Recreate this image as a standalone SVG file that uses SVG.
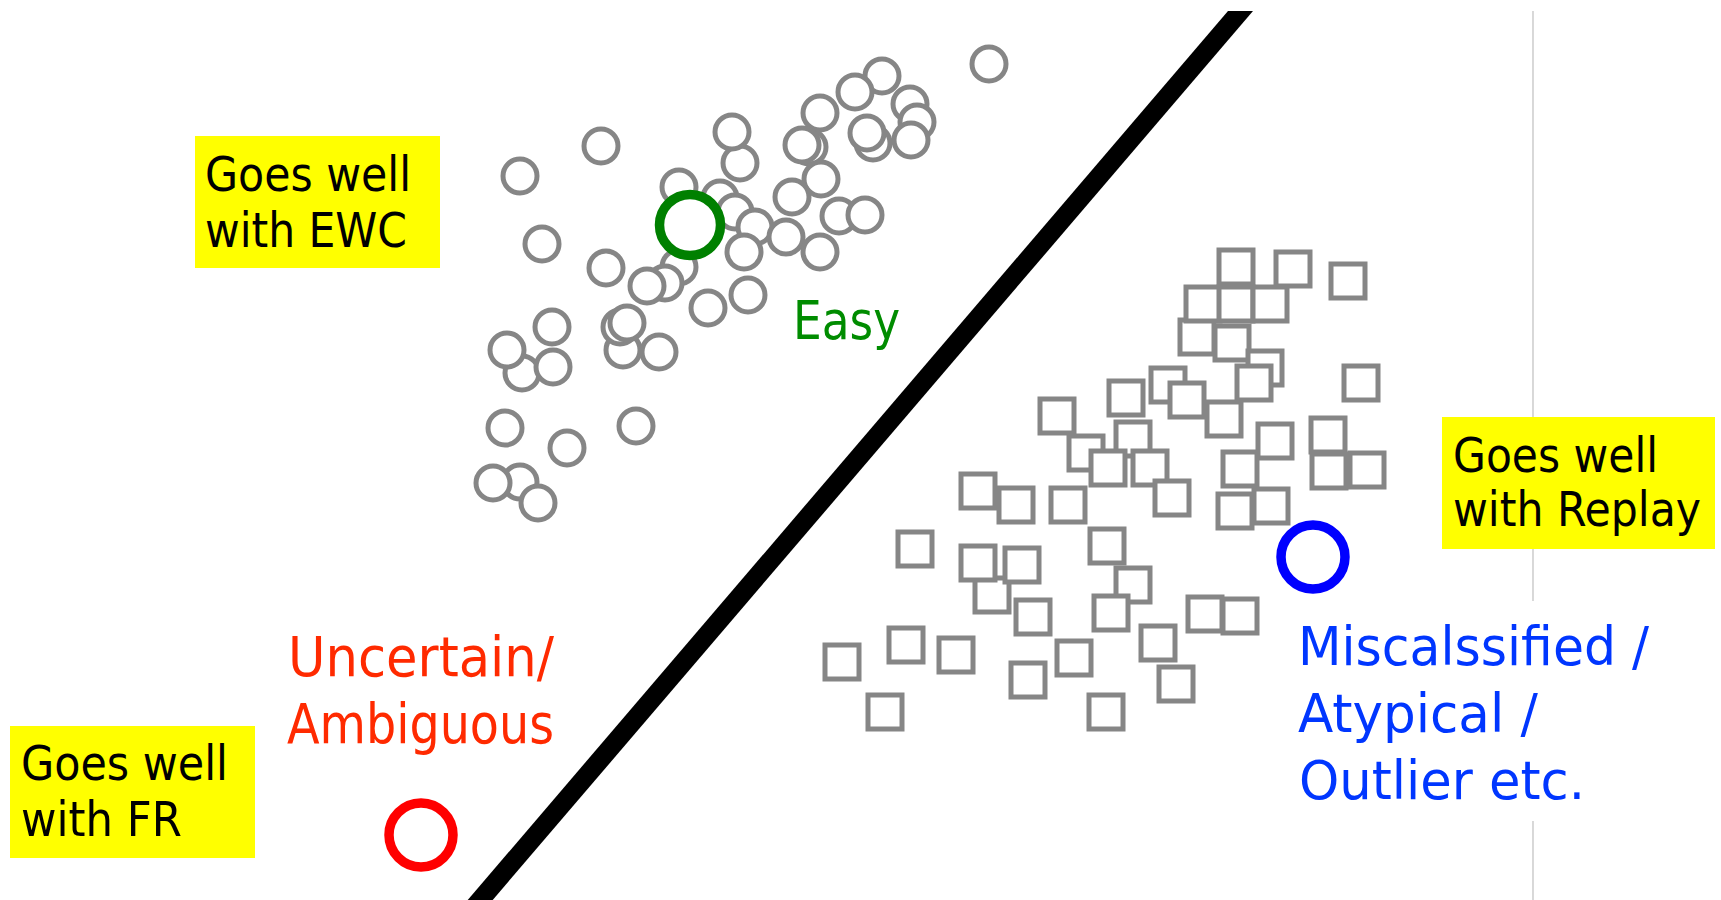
<svg xmlns="http://www.w3.org/2000/svg" width="1721" height="900" viewBox="0 0 1721 900">
  <style>
    .pt { fill: #ffffff; stroke: #868686; stroke-width: 5; }
    .sq { fill: #ffffff; stroke: #868686; stroke-width: 5; }
    .tag { fill: #ffff00; }
    .lbl { font-family: "DejaVu Sans Condensed", "DejaVu Sans", sans-serif; }
    .tagtxt { font-size: 48px; fill: #000000; }
  </style>

  <rect x="0" y="0" width="1721" height="900" fill="#ffffff"/>

  <!-- dividers -->
  <g id="connectors">
    <line x1="1533" y1="11" x2="1533" y2="900" stroke="#c4c4c4" stroke-width="1.3"/>
    <polygon points="1228,11 1253,11 491,902 466,902" fill="#000000"/>
  </g>

  <!-- class A: circles -->
  <g id="class-circles">
    <circle class="pt" cx="989" cy="64" r="17"/>
    <circle class="pt" cx="882" cy="76" r="17"/>
    <circle class="pt" cx="855" cy="92" r="17"/>
    <circle class="pt" cx="910" cy="104" r="17"/>
    <circle class="pt" cx="917" cy="122" r="17"/>
    <circle class="pt" cx="911" cy="140" r="17"/>
    <circle class="pt" cx="820" cy="113" r="17"/>
    <circle class="pt" cx="873" cy="143" r="17"/>
    <circle class="pt" cx="867" cy="133" r="17"/>
    <circle class="pt" cx="809" cy="147" r="17"/>
    <circle class="pt" cx="802" cy="145" r="17"/>
    <circle class="pt" cx="740" cy="163" r="17"/>
    <circle class="pt" cx="732" cy="132" r="17"/>
    <circle class="pt" cx="601" cy="146" r="17"/>
    <circle class="pt" cx="520" cy="176" r="17"/>
    <circle class="pt" cx="821" cy="179" r="17"/>
    <circle class="pt" cx="792" cy="197" r="17"/>
    <circle class="pt" cx="679" cy="187" r="17"/>
    <circle class="pt" cx="720" cy="198" r="17"/>
    <circle class="pt" cx="735" cy="212" r="17"/>
    <circle class="pt" cx="839" cy="216" r="17"/>
    <circle class="pt" cx="865" cy="215" r="17"/>
    <circle class="pt" cx="755" cy="227" r="17"/>
    <circle class="pt" cx="786" cy="237" r="17"/>
    <circle class="pt" cx="744" cy="252" r="17"/>
    <circle class="pt" cx="820" cy="252" r="17"/>
    <circle class="pt" cx="542" cy="244" r="17"/>
    <circle class="pt" cx="679" cy="267" r="17"/>
    <circle class="pt" cx="606" cy="268" r="17"/>
    <circle class="pt" cx="665" cy="283" r="17"/>
    <circle class="pt" cx="647" cy="286" r="17"/>
    <circle class="pt" cx="708" cy="308" r="17"/>
    <circle class="pt" cx="748" cy="295" r="17"/>
    <circle class="pt" cx="552" cy="327" r="17"/>
    <circle class="pt" cx="623" cy="350" r="17"/>
    <circle class="pt" cx="620" cy="327" r="17"/>
    <circle class="pt" cx="627" cy="323" r="17"/>
    <circle class="pt" cx="659" cy="352" r="17"/>
    <circle class="pt" cx="522" cy="373" r="17"/>
    <circle class="pt" cx="507" cy="350" r="17"/>
    <circle class="pt" cx="553" cy="367" r="17"/>
    <circle class="pt" cx="505" cy="428" r="17"/>
    <circle class="pt" cx="567" cy="448" r="17"/>
    <circle class="pt" cx="636" cy="426" r="17"/>
    <circle class="pt" cx="520" cy="482" r="17"/>
    <circle class="pt" cx="493" cy="483" r="17"/>
    <circle class="pt" cx="538" cy="503" r="17"/>
  </g>

  <!-- class B: squares -->
  <g id="class-squares">
    <rect class="sq" x="1219" y="250" width="34" height="34"/>
    <rect class="sq" x="1276" y="252" width="34" height="34"/>
    <rect class="sq" x="1331" y="264" width="34" height="34"/>
    <rect class="sq" x="1180" y="320" width="34" height="34"/>
    <rect class="sq" x="1215" y="326" width="34" height="34"/>
    <rect class="sq" x="1186" y="287" width="34" height="34"/>
    <rect class="sq" x="1219" y="287" width="34" height="34"/>
    <rect class="sq" x="1253" y="287" width="34" height="34"/>
    <rect class="sq" x="1248" y="351" width="34" height="34"/>
    <rect class="sq" x="1237" y="366" width="34" height="34"/>
    <rect class="sq" x="1344" y="366" width="34" height="34"/>
    <rect class="sq" x="1151" y="368" width="34" height="34"/>
    <rect class="sq" x="1109" y="381" width="34" height="34"/>
    <rect class="sq" x="1207" y="402" width="34" height="34"/>
    <rect class="sq" x="1170" y="383" width="34" height="34"/>
    <rect class="sq" x="1040" y="399" width="34" height="34"/>
    <rect class="sq" x="1069" y="436" width="34" height="34"/>
    <rect class="sq" x="1116" y="422" width="34" height="34"/>
    <rect class="sq" x="1091" y="451" width="34" height="34"/>
    <rect class="sq" x="1133" y="451" width="34" height="34"/>
    <rect class="sq" x="1258" y="424" width="34" height="34"/>
    <rect class="sq" x="1311" y="418" width="34" height="34"/>
    <rect class="sq" x="1223" y="452" width="34" height="34"/>
    <rect class="sq" x="1312" y="454" width="34" height="34"/>
    <rect class="sq" x="1350" y="453" width="34" height="34"/>
    <rect class="sq" x="961" y="474" width="34" height="34"/>
    <rect class="sq" x="999" y="488" width="34" height="34"/>
    <rect class="sq" x="1051" y="488" width="34" height="34"/>
    <rect class="sq" x="1155" y="481" width="34" height="34"/>
    <rect class="sq" x="1218" y="494" width="34" height="34"/>
    <rect class="sq" x="1254" y="489" width="34" height="34"/>
    <rect class="sq" x="898" y="532" width="34" height="34"/>
    <rect class="sq" x="975" y="578" width="34" height="34"/>
    <rect class="sq" x="961" y="546" width="34" height="34"/>
    <rect class="sq" x="1005" y="548" width="34" height="34"/>
    <rect class="sq" x="1016" y="600" width="34" height="34"/>
    <rect class="sq" x="1090" y="529" width="34" height="34"/>
    <rect class="sq" x="1116" y="568" width="34" height="34"/>
    <rect class="sq" x="1094" y="596" width="34" height="34"/>
    <rect class="sq" x="1188" y="597" width="34" height="34"/>
    <rect class="sq" x="1223" y="599" width="34" height="34"/>
    <rect class="sq" x="1141" y="626" width="34" height="34"/>
    <rect class="sq" x="1159" y="667" width="34" height="34"/>
    <rect class="sq" x="1057" y="641" width="34" height="34"/>
    <rect class="sq" x="1011" y="663" width="34" height="34"/>
    <rect class="sq" x="1089" y="695" width="34" height="34"/>
    <rect class="sq" x="939" y="638" width="34" height="34"/>
    <rect class="sq" x="889" y="628" width="34" height="34"/>
    <rect class="sq" x="825" y="645" width="34" height="34"/>
    <rect class="sq" x="868" y="695" width="34" height="34"/>
  </g>

  <!-- highlighted samples -->
  <g id="easy">
    <circle cx="690" cy="225" r="30.5" fill="#ffffff" stroke="#008000" stroke-width="9.5"/>
    <text class="lbl" x="793" y="339" font-size="54" fill="#008c00" textLength="107" lengthAdjust="spacingAndGlyphs">Easy</text>
  </g>

  <g id="uncertain">
    <circle cx="421" cy="835" r="32" fill="#ffffff" stroke="#ff0000" stroke-width="9.5"/>
    <text class="lbl" font-size="55" fill="#ff2a00">
      <tspan x="288" y="676" textLength="266" lengthAdjust="spacingAndGlyphs">Uncertain/</tspan>
      <tspan x="287" y="743" textLength="267" lengthAdjust="spacingAndGlyphs">Ambiguous</tspan>
    </text>
  </g>

  <g id="atypical">
    <circle cx="1313" cy="557" r="32" fill="#ffffff" stroke="#0000ff" stroke-width="9.5"/>
    <rect x="1285" y="601" width="380" height="220" fill="#ffffff"/>
    <text class="lbl" font-size="53" fill="#0036ff">
      <tspan x="1298" y="665" textLength="351" lengthAdjust="spacingAndGlyphs">Miscalssified /</tspan>
      <tspan x="1298" y="732" textLength="240" lengthAdjust="spacingAndGlyphs">Atypical /</tspan>
      <tspan x="1299" y="799" textLength="286" lengthAdjust="spacingAndGlyphs">Outlier etc.</tspan>
    </text>
  </g>

  <!-- method tags -->
  <g id="tag-ewc">
    <rect class="tag" x="195" y="136" width="245" height="132"/>
    <text class="lbl tagtxt">
      <tspan x="205" y="191" textLength="206" lengthAdjust="spacingAndGlyphs">Goes well</tspan>
      <tspan x="205" y="247" textLength="202" lengthAdjust="spacingAndGlyphs">with EWC</tspan>
    </text>
  </g>

  <g id="tag-fr">
    <rect class="tag" x="10" y="726" width="245" height="132"/>
    <text class="lbl tagtxt">
      <tspan x="21" y="780" textLength="207" lengthAdjust="spacingAndGlyphs">Goes well</tspan>
      <tspan x="21" y="836" textLength="161" lengthAdjust="spacingAndGlyphs">with FR</tspan>
    </text>
  </g>

  <g id="tag-replay">
    <rect class="tag" x="1442" y="417" width="273" height="132"/>
    <text class="lbl tagtxt">
      <tspan x="1453" y="472" textLength="205" lengthAdjust="spacingAndGlyphs">Goes well</tspan>
      <tspan x="1453" y="526" textLength="248" lengthAdjust="spacingAndGlyphs">with Replay</tspan>
    </text>
  </g>
</svg>
